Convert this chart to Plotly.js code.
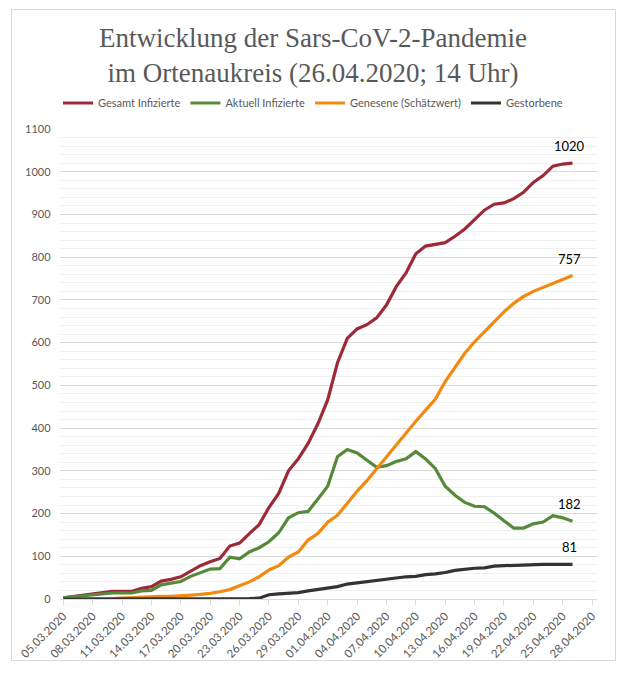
<!DOCTYPE html>
<html>
<head>
<meta charset="utf-8">
<script src="https://cdn.plot.ly/plotly-3.0.1.min.js"></script>
<style>
html,body{margin:0;padding:0;background:#fff;}
#wrap{position:relative;width:626px;height:673px;}
#chart{width:626px;height:673px;}
#frame{position:absolute;left:11px;top:9px;width:605px;height:652px;border:1px solid #d9d9d9;pointer-events:none;box-sizing:border-box;}
</style>
</head>
<body>
<div id="wrap"><div id="chart"></div><div id="frame"></div></div>
<script>
const dates = [
 "2020-03-05","2020-03-06","2020-03-07","2020-03-08","2020-03-09","2020-03-10","2020-03-11","2020-03-12","2020-03-13","2020-03-14",
 "2020-03-15","2020-03-16","2020-03-17","2020-03-18","2020-03-19","2020-03-20","2020-03-21","2020-03-22","2020-03-23","2020-03-24",
 "2020-03-25","2020-03-26","2020-03-27","2020-03-28","2020-03-29","2020-03-30","2020-03-31","2020-04-01","2020-04-02","2020-04-03",
 "2020-04-04","2020-04-05","2020-04-06","2020-04-07","2020-04-08","2020-04-09","2020-04-10","2020-04-11","2020-04-12","2020-04-13",
 "2020-04-14","2020-04-15","2020-04-16","2020-04-17","2020-04-18","2020-04-19","2020-04-20","2020-04-21","2020-04-22","2020-04-23",
 "2020-04-24","2020-04-25","2020-04-26"
];
const gesamtInfizierte = [
 3,6,9,12,15,18,18,18,25,29,
 42,46,52,66,78,87,95,124,131,153,
 174,214,247,300,328,364,410,466,553,610,
 632,642,658,688,731,763,808,826,830,834,
 849,866,888,910,924,927,937,952,975,991,
 1013,1018,1020
];
const aktuellInfizierte = [
 3,5,8,10,12,14,14,14,19,20,
 33,37,41,53,62,70,71,98,94,110,
 120,134,155,190,202,205,234,264,333,350,
 342,326,308,312,322,328,345,328,305,264,
 243,226,217,216,201,183,166,166,176,180,
 195,190,182
];
const genesene = [
 0,0,0,0,0,1,2,3,5,5,
 6,6,7,9,11,13,17,22,31,40,
 52,68,78,98,110,138,153,180,196,225,
 252,277,305,332,360,387,416,442,468,509,
 543,575,602,626,650,672,692,708,720,730,
 738,748,757
];
const gestorbene = [
 0,0,0,0,0,0,0,0,0,0,
 0,0,0,0,1,1,1,1,1,1,
 2,10,12,13,15,19,22,26,29,35,
 38,41,44,47,50,52,53,57,59,62,
 67,70,72,73,77,78,79,80,80,81,
 81,81,81
];
const seriesNames = ["Gesamt Infizierte","Aktuell Infizierte","Genesene (Schätzwert)","Gestorbene"];
const seriesColors = ["#9e2a38","#568a3a","#f28a12","#333333"];
const seriesData = [gesamtInfizierte, aktuellInfizierte, genesene, gestorbene];
const tickDates = ["2020-03-05","2020-03-08","2020-03-11","2020-03-14","2020-03-17","2020-03-20","2020-03-23","2020-03-26",
 "2020-03-29","2020-04-01","2020-04-04","2020-04-07","2020-04-10","2020-04-13","2020-04-16","2020-04-19","2020-04-22",
 "2020-04-25","2020-04-28"];
const tickLabels = ["05.03.2020","08.03.2020","11.03.2020","14.03.2020","17.03.2020","20.03.2020","23.03.2020","26.03.2020",
 "29.03.2020","01.04.2020","04.04.2020","07.04.2020","10.04.2020","13.04.2020","16.04.2020","19.04.2020","22.04.2020",
 "25.04.2020","28.04.2020"];

const traces = seriesData.map((ys, i) => ({
  x: dates, y: ys, type: "scatter", mode: "lines", name: seriesNames[i],
  line: {color: seriesColors[i], width: 3.2}, hoverinfo: "skip"
}));

const annotations = seriesData.map((ys, i) => ({
  x: dates[dates.length - 1], y: ys[ys.length - 1], xref: "x", yref: "y",
  text: String(ys[ys.length - 1]), showarrow: false, yshift: 17, xshift: -3,
  font: {family: "Lato, 'Noto Sans', sans-serif", size: 13, color: "#000"}
}));

const layout = {
  width: 626, height: 673,
  margin: {l: 60, r: 29, t: 129, b: 74},
  paper_bgcolor: "#fff", plot_bgcolor: "#fff",
  title: {
    text: "Entwicklung der Sars-CoV-2-Pandemie<br>im Ortenaukreis (26.04.2020; 14 Uhr)",
    font: {family: "'Liberation Serif', serif", size: 27, color: "#595959"},
    x: 0.5, xanchor: "center", xref: "container",
    y: 1 - 47/673, yanchor: "middle", yref: "container"
  },
  showlegend: true,
  legend: {
    orientation: "h", x: 0.5, xanchor: "center", xref: "container",
    y: 1 - 103/673, yanchor: "middle", yref: "container",
    font: {family: "Lato, 'Noto Sans', sans-serif", size: 11, color: "#595959"},
    itemwidth: 30, traceorder: "normal"
  },
  xaxis: {
    type: "date",
    range: ["2020-03-04 16:00", "2020-04-28 12:00"],
    tickvals: tickDates, ticktext: tickLabels, tickangle: -45,
    tickfont: {family: "Lato, 'Noto Sans', sans-serif", size: 11.5, color: "#595959"},
    showgrid: false, zeroline: false,
    showline: true, linecolor: "#d9d9d9", linewidth: 1,
    ticks: "outside", ticklen: 5, tickcolor: "#d9d9d9"
  },
  yaxis: {
    range: [0, 1100], dtick: 100, tick0: 0,
    tickfont: {family: "Lato, 'Noto Sans', sans-serif", size: 11, color: "#595959"},
    showgrid: true, gridcolor: "#d9d9d9", gridwidth: 1,
    minor: {dtick: 20, showgrid: true, gridcolor: "#f0f0f0", gridwidth: 1},
    zeroline: false, showline: false, ticks: "", ticklen: 0,
    ticksuffix: "   "
  },
  annotations: annotations
};

Plotly.newPlot("chart", traces, layout, {staticPlot: true, displayModeBar: false});
</script>
</body>
</html>
